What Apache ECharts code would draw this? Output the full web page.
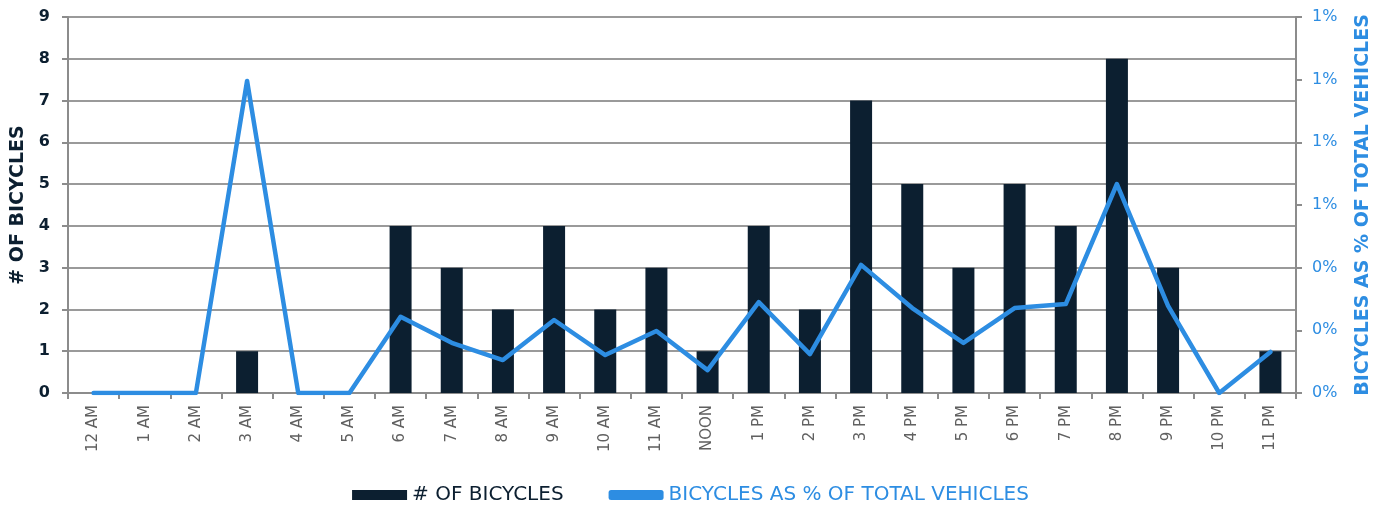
<!DOCTYPE html>
<html><head><meta charset="utf-8">
<script src="https://cdn.jsdelivr.net/npm/echarts@6/dist/echarts.min.js"></script>
<style>html,body{margin:0;padding:0;background:#fff}#c{width:1381px;height:511px}</style>
</head><body><div id="c"></div>
<script>
const categories = ['12 AM','1 AM','2 AM','3 AM','4 AM','5 AM','6 AM','7 AM','8 AM','9 AM','10 AM','11 AM','NOON','1 PM','2 PM','3 PM','4 PM','5 PM','6 PM','7 PM','8 PM','9 PM','10 PM','11 PM'];
const bicycles = [0,0,0,1,0,0,4,3,2,4,2,3,1,4,2,7,5,3,5,4,8,3,0,1];
const pctOfVehicles = [0,0,0,0.996,0,0,0.243,0.16,0.105,0.233,0.121,0.198,0.073,0.29,0.124,0.409,0.271,0.16,0.271,0.284,0.667,0.278,0,0.131];
const FONT = '"DejaVu Sans", sans-serif';
const DARK = '#0c1f30', BLUE = '#2d8de2', GRAY = '#8c8c8c';
const chart = echarts.init(document.getElementById('c'));
chart.setOption({
  animation: false,
  textStyle: {fontFamily: FONT},
  grid: {left: 68, right: 85, top: 17, bottom: 118},
  legend: {
    bottom: 1, left: 'center', itemGap: 45, itemWidth: 55, itemHeight: 10,
    textStyle: {fontSize: 20, fontFamily: FONT},
    data: [
      {name: '# OF BICYCLES', icon: 'rect', textStyle: {color: DARK}},
      {name: 'BICYCLES AS % OF TOTAL VEHICLES', icon: 'roundRect', textStyle: {color: BLUE}}
    ]
  },
  xAxis: {
    type: 'category', data: categories, boundaryGap: true,
    axisLine: {lineStyle: {color: GRAY, width: 2}},
    axisTick: {show: true, length: 6, alignWithLabel: false, lineStyle: {color: GRAY, width: 2}},
    axisLabel: {rotate: 90, color: '#606060', fontSize: 15, margin: 12, interval: 0, fontFamily: FONT}
  },
  yAxis: [
    {
      type: 'value', min: 0, max: 9, interval: 1,
      name: '# OF BICYCLES', nameLocation: 'middle', nameGap: 40, nameRotate: 90,
      nameTextStyle: {color: DARK, fontSize: 19, fontWeight: 'bold', fontFamily: FONT},
      axisLine: {show: true, lineStyle: {color: GRAY, width: 2}},
      axisTick: {show: true, length: 6, lineStyle: {color: GRAY, width: 2}},
      axisLabel: {color: DARK, fontSize: 16, fontWeight: 'bold', margin: 18},
      splitLine: {show: true, lineStyle: {color: '#9a9a9a', width: 2}}
    },
    {
      type: 'value', min: 0, max: 1.2, interval: 0.2,
      name: 'BICYCLES AS % OF TOTAL VEHICLES', nameLocation: 'middle', nameGap: 58, nameRotate: 90,
      nameTextStyle: {color: BLUE, fontSize: 19, fontWeight: 'bold', fontFamily: FONT},
      axisLine: {show: true, lineStyle: {color: GRAY, width: 2}},
      axisTick: {show: true, length: 6, lineStyle: {color: GRAY, width: 2}},
      axisLabel: {color: BLUE, fontSize: 16, margin: 16, formatter: v => Math.round(v) + '%'},
      splitLine: {show: false}
    }
  ],
  series: [
    {
      name: '# OF BICYCLES', type: 'bar', data: bicycles, yAxisIndex: 0,
      barWidth: '43%', itemStyle: {color: DARK}
    },
    {
      name: 'BICYCLES AS % OF TOTAL VEHICLES', type: 'line', data: pctOfVehicles, yAxisIndex: 1,
      showSymbol: false, symbol: 'none', lineStyle: {color: BLUE, width: 4.5, cap: 'round', join: 'round'}, itemStyle: {color: BLUE}
    }
  ]
});
</script></body></html>
